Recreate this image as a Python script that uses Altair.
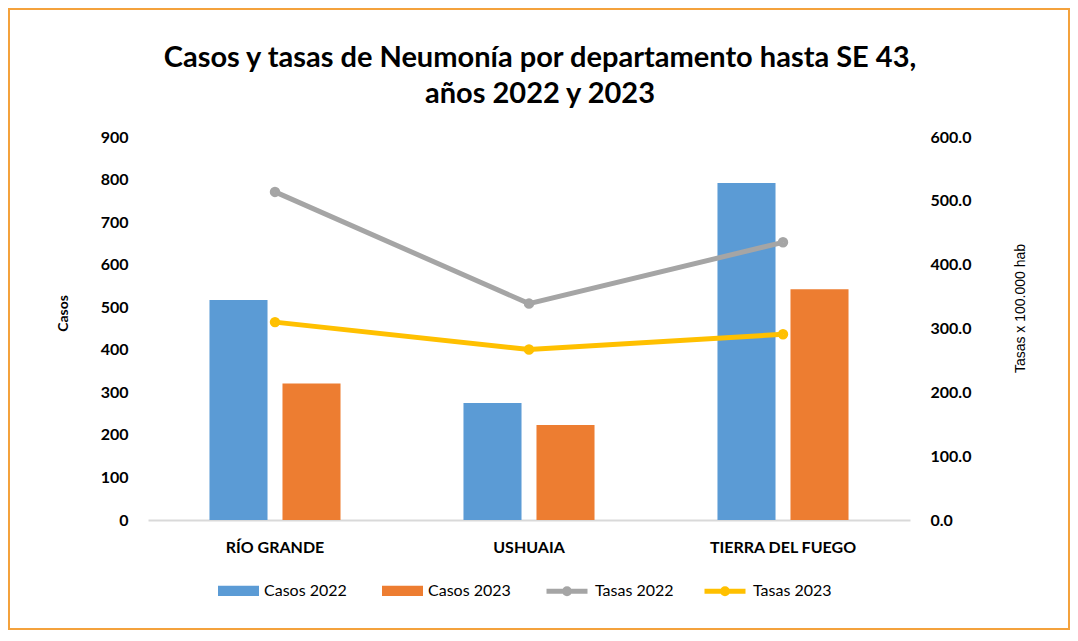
import altair as alt
import pandas as pd

departamentos = ["RÍO GRANDE", "USHUAIA", "TIERRA DEL FUEGO"]
casos_2022 = [517, 275, 792]
casos_2023 = [321, 223, 542]
tasas_2022 = [514.0, 339.0, 435.0]
tasas_2023 = [310.0, 267.0, 291.0]

series_barras = ["Casos 2022", "Casos 2023"]
series_lineas = ["Tasas 2022", "Tasas 2023"]
colores_barras = ["#5B9BD5", "#ED7D31"]
colores_lineas = ["#A5A5A5", "#FFC000"]

rows_b = []
for d, a, b in zip(departamentos, casos_2022, casos_2023):
    rows_b.append({"dept": d, "serie": series_barras[0], "casos": a})
    rows_b.append({"dept": d, "serie": series_barras[1], "casos": b})
df_b = pd.DataFrame(rows_b)

rows_l = []
for d, a, b in zip(departamentos, tasas_2022, tasas_2023):
    rows_l.append({"dept": d, "serie": series_lineas[0], "tasa": a})
    rows_l.append({"dept": d, "serie": series_lineas[1], "tasa": b})
df_l = pd.DataFrame(rows_l)

FONT = "Lato"

x_enc = alt.X(
    "dept:N", sort=departamentos,
    scale=alt.Scale(paddingInner=0, paddingOuter=0),
    axis=alt.Axis(title=None, labelAngle=0, labelFont=FONT, labelFontSize=16,
                  labelFontWeight="bold", labelColor="black", domainColor="#D9D9D9",
                  domainWidth=2, ticks=False, labelPadding=19),
)

bars = alt.Chart(df_b).mark_bar().encode(
    x=x_enc,
    xOffset=alt.XOffset("serie:N", sort=series_barras,
                        scale=alt.Scale(paddingInner=0.205, paddingOuter=0.842)),
    y=alt.Y("casos:Q", scale=alt.Scale(domain=[0, 900]),
            axis=alt.Axis(values=list(range(0, 901, 100)), title="Casos", grid=False,
                          domain=False, ticks=False, labelFont=FONT, labelFontSize=16,
                          labelFontWeight="bold", labelColor="black", labelPadding=20,
                          titleFont=FONT, titleFontSize=14, titleFontWeight="bold",
                          titleColor="black", titlePadding=30, titleY=176)),
    fill=alt.Fill("serie:N", sort=series_barras,
                  scale=alt.Scale(domain=series_barras, range=colores_barras),
                  legend=alt.Legend(orient="none", legendX=70, legendY=433,
                                    direction="horizontal", title=None,
                                    symbolType="M-1,-0.25H1V0.25H-1Z", symbolSize=1681,
                                    symbolStrokeWidth=0, labelFont=FONT, labelFontSize=16,
                                    labelColor="black", labelOffset=5, columnPadding=35,
                                    padding=0)),
)

line_y = alt.Y("tasa:Q", scale=alt.Scale(domain=[0, 600]),
               axis=alt.Axis(orient="right", values=list(range(0, 601, 100)), format=".1f",
                             title="Tasas x 100.000 hab", titleAngle=270, grid=False,
                             domain=False, ticks=False, labelFont=FONT, labelFontSize=16,
                             labelFontWeight="bold", labelColor="black", labelPadding=20,
                             titleFont="Liberation Sans", titleFontSize=14,
                             titleFontWeight="normal", titleColor="black", titlePadding=57,
                             titleY=171))

stroke_enc = alt.Stroke("serie:N", sort=series_lineas,
                        scale=alt.Scale(domain=series_lineas, range=colores_lineas),
                        legend=alt.Legend(orient="none", legendX=396, legendY=431,
                                          direction="horizontal", title=None,
                                          symbolType="M-1,0H1M0,-0.12A0.12,0.12 0 1,1 0,0.12A0.12,0.12 0 1,1 0,-0.12",
                                          symbolSize=1681, symbolStrokeWidth=5,
                                          labelFont=FONT, labelFontSize=16, labelColor="black",
                                          labelOffset=5, columnPadding=20, padding=0))

lines = alt.Chart(df_l).mark_line(strokeWidth=5).encode(
    x=alt.X("dept:N", sort=departamentos), y=line_y, stroke=stroke_enc)
points = alt.Chart(df_l).mark_point(shape="circle", size=30, strokeWidth=5, opacity=1).encode(
    x=alt.X("dept:N", sort=departamentos), y=alt.Y("tasa:Q"), stroke=alt.Stroke("serie:N"))

line_layer = alt.layer(lines, points)

border = alt.Chart(alt.Data(values=[{"a": 1}])).mark_rect(
    filled=False, stroke="#F4A23C", strokeWidth=2).encode(
    x=alt.value(-139), x2=alt.value(921), y=alt.value(-128), y2=alt.value(492))

chart = alt.layer(bars, line_layer, border).resolve_scale(y="independent").properties(
    width=762, height=383,
    autosize=alt.AutoSizeParams(type="none"),
    padding={"left": 140, "top": 129, "right": 160, "bottom": 110},
    title=alt.Title(["Casos y tasas de Neumonía por departamento hasta SE 43,", "años 2022 y 2023"],
                    font=FONT, fontSize=29, fontWeight="bold", anchor="middle", dx=11,
                    frame="group", offset=-101, lineHeight=36, color="black"),
).configure_view(stroke=None)

chart.save("out.html", embed_options={"renderer": "svg", "actions": False})
